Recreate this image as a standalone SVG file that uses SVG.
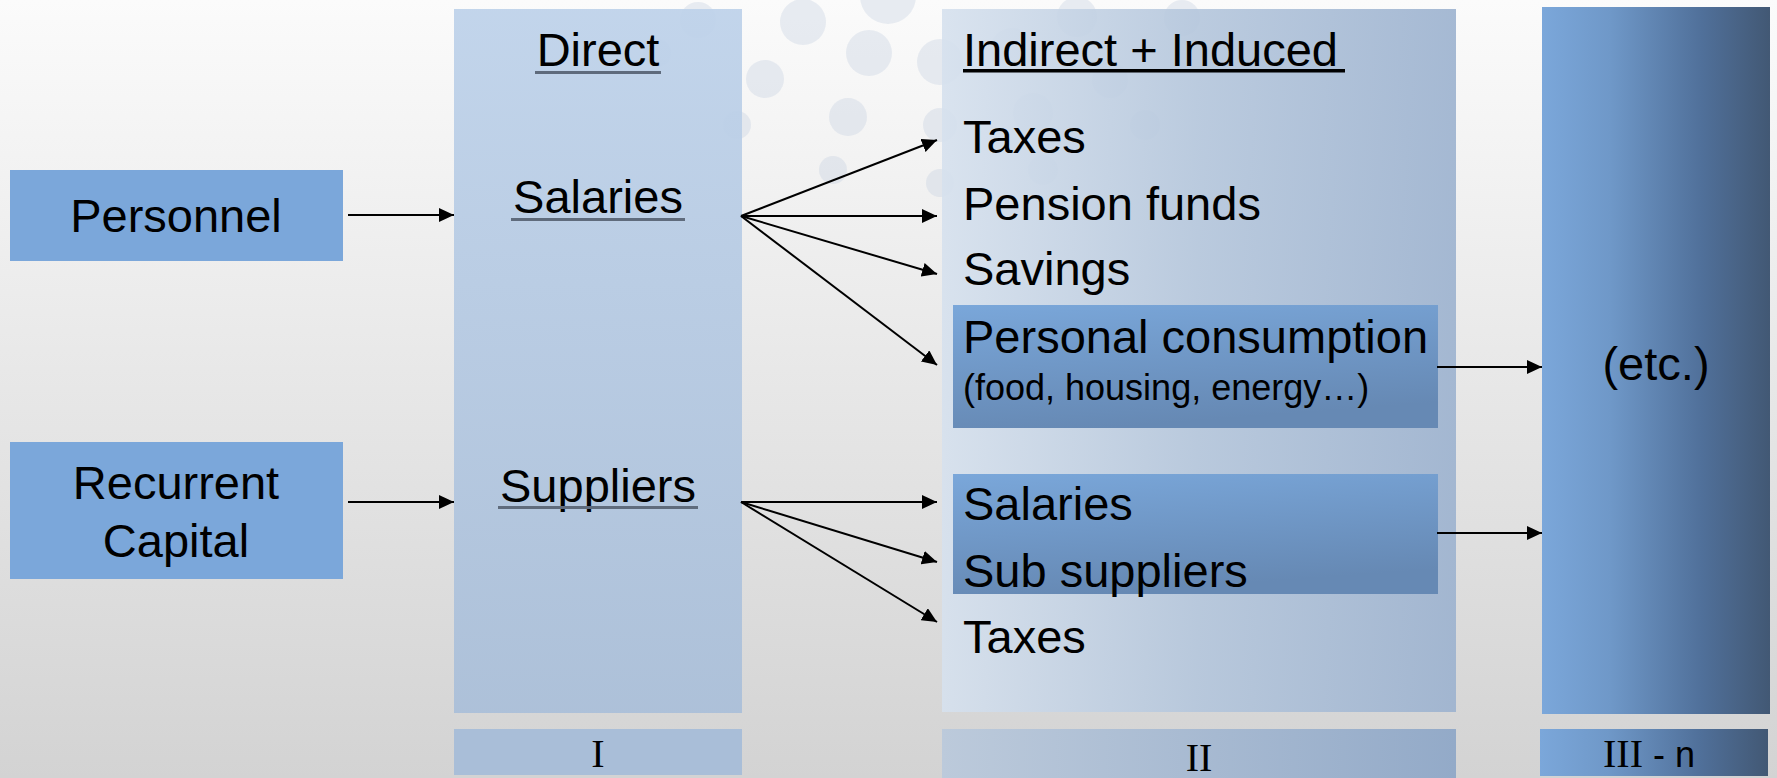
<svg xmlns="http://www.w3.org/2000/svg" width="1777" height="778" viewBox="0 0 1777 778">
  <defs>
    <linearGradient id="bg" x1="0" y1="0" x2="0" y2="1">
      <stop offset="0" stop-color="#fbfbfb"/>
      <stop offset="1" stop-color="#d3d3d3"/>
    </linearGradient>
    <linearGradient id="directFill" x1="0" y1="0" x2="0" y2="1">
      <stop offset="0" stop-color="#bed2ea"/>
      <stop offset="1" stop-color="#aabfd9"/>
    </linearGradient>
    <linearGradient id="indirectFill" x1="0" y1="0" x2="1" y2="0">
      <stop offset="0" stop-color="#d6e1ee"/>
      <stop offset="0.5" stop-color="#b4c6dc"/>
      <stop offset="1" stop-color="#9cb2cf"/>
    </linearGradient>
    <linearGradient id="phaseFill" x1="0" y1="0" x2="1" y2="0">
      <stop offset="0" stop-color="#bccadb"/>
      <stop offset="1" stop-color="#93aac8"/>
    </linearGradient>
    <linearGradient id="darkFill" x1="0" y1="0" x2="1" y2="0">
      <stop offset="0" stop-color="#7ba7da"/>
      <stop offset="0.3" stop-color="#6f98c8"/>
      <stop offset="0.7" stop-color="#50709a"/>
      <stop offset="1" stop-color="#425874"/>
    </linearGradient>
    <linearGradient id="innerFill" x1="0" y1="0" x2="0.3" y2="1">
      <stop offset="0" stop-color="#7aa7da"/>
      <stop offset="1" stop-color="#6689b4"/>
    </linearGradient>
    <marker id="arrow" markerUnits="userSpaceOnUse" markerWidth="16" markerHeight="14" refX="15" refY="7" orient="auto">
      <path d="M0,0 L15,7 L0,14 z" fill="#000"/>
    </marker>
    <style>
      .lbl { font-family: "Liberation Sans", Arial, sans-serif; font-size: 47px; fill: #000; }
      .small { font-family: "Liberation Sans", Arial, sans-serif; font-size: 36px; fill: #000; }
      .roman { font-family: "Liberation Serif", "Times New Roman", serif; font-size: 40px; fill: #000; }
      .mid { text-anchor: middle; }
      .conn { stroke: #000; stroke-width: 2; fill: none; marker-end: url(#arrow); }
      .bubble { fill: #c3cfdf; opacity: 0.35; }
      .ul { fill: #5f6b7c; }
    </style>
  </defs>

  <!-- backdrop -->
  <rect x="0" y="0" width="1777" height="778" fill="url(#bg)"/>

  <!-- faint decorative bubbles -->
  <g id="bubbles">
    <circle class="bubble" cx="698" cy="20" r="18"/>
    <circle class="bubble" cx="657" cy="53" r="14"/>
    <circle class="bubble" cx="803" cy="22" r="23"/>
    <circle class="bubble" cx="888" cy="-4" r="28"/>
    <circle class="bubble" cx="869" cy="53" r="23"/>
    <circle class="bubble" cx="765" cy="79" r="19"/>
    <circle class="bubble" cx="737" cy="125" r="14"/>
    <circle class="bubble" cx="848" cy="117" r="19"/>
    <circle class="bubble" cx="833" cy="170" r="14"/>
    <circle class="bubble" cx="940" cy="62" r="23"/>
    <circle class="bubble" cx="940" cy="125" r="17"/>
    <circle class="bubble" cx="940" cy="183" r="14"/>
    <circle class="bubble" cx="1012" cy="50" r="22"/>
    <circle class="bubble" cx="1077" cy="17" r="20"/>
    <circle class="bubble" cx="1182" cy="18" r="18"/>
    <circle class="bubble" cx="1110" cy="80" r="18"/>
    <circle class="bubble" cx="1033" cy="113" r="20"/>
    <circle class="bubble" cx="1145" cy="125" r="15"/>
    <circle class="bubble" cx="1043" cy="170" r="15"/>
  </g>

  <!-- source boxes -->
  <g id="personnel">
    <rect x="10" y="170" width="333" height="91" fill="#7ba7da"/>
    <text class="lbl mid" x="176" y="232">Personnel</text>
  </g>
  <g id="recurrent-capital">
    <rect x="10" y="442" width="333" height="137" fill="#7ba7da"/>
    <text class="lbl mid" x="176" y="499">Recurrent</text>
    <text class="lbl mid" x="176" y="557">Capital</text>
  </g>

  <!-- phase I: direct -->
  <g id="direct">
    <rect x="454" y="9" width="288" height="704" fill="url(#directFill)" opacity="0.93"/>
    <text class="lbl mid" x="598" y="66">Direct</text>
    <rect class="ul" x="535" y="71" width="126" height="3"/>
    <text class="lbl mid" x="598" y="213">Salaries</text>
    <rect class="ul" x="511" y="218" width="174" height="3"/>
    <text class="lbl mid" x="598" y="502">Suppliers</text>
    <rect class="ul" x="498" y="506" width="200" height="3"/>
  </g>
  <g id="phase-1">
    <rect x="454" y="729" width="288" height="46" fill="#a9bed8"/>
    <text class="roman mid" x="598" y="767">I</text>
  </g>

  <!-- phase II: indirect and induced -->
  <g id="indirect">
    <rect x="942" y="9" width="514" height="703" fill="url(#indirectFill)" opacity="0.9"/>
    <text class="lbl" x="963" y="66">Indirect + Induced</text>
    <rect x="963" y="69" width="382" height="3.5" fill="#000"/>
    <text class="lbl" x="963" y="153">Taxes</text>
    <text class="lbl" x="963" y="220">Pension funds</text>
    <text class="lbl" x="963" y="285">Savings</text>
  </g>
  <g id="personal-consumption">
    <rect x="953" y="305" width="485" height="123" fill="url(#innerFill)"/>
    <text class="lbl" x="963" y="353">Personal consumption</text>
    <text class="small" x="963" y="400">(food, housing, energy…)</text>
  </g>
  <g id="supplier-chain">
    <rect x="953" y="474" width="485" height="120" fill="url(#innerFill)"/>
    <text class="lbl" x="963" y="520">Salaries</text>
    <text class="lbl" x="963" y="587">Sub suppliers</text>
  </g>
  <g id="supplier-taxes">
    <text class="lbl" x="963" y="653">Taxes</text>
  </g>
  <g id="phase-2">
    <rect x="942" y="729" width="514" height="49" fill="url(#phaseFill)"/>
    <text class="roman mid" x="1199" y="771">II</text>
  </g>

  <!-- phase III - n -->
  <g id="etc">
    <rect x="1542" y="7" width="228" height="707" fill="url(#darkFill)"/>
    <text class="lbl mid" x="1656" y="380">(etc.)</text>
  </g>
  <g id="phase-3">
    <rect x="1540" y="729" width="228" height="47" fill="url(#darkFill)"/>
    <text x="1603" y="767"><tspan class="roman">III</tspan><tspan font-family="Liberation Sans, Arial, sans-serif" font-size="36px"> - n</tspan></text>
  </g>

  <!-- connectors -->
  <g id="connectors">
    <line class="conn" x1="348" y1="215" x2="454" y2="215"/>
    <line class="conn" x1="348" y1="502" x2="454" y2="502"/>
    <line class="conn" x1="741" y1="216" x2="937" y2="140"/>
    <line class="conn" x1="741" y1="216" x2="937" y2="216"/>
    <line class="conn" x1="741" y1="216" x2="937" y2="274"/>
    <line class="conn" x1="741" y1="216" x2="937" y2="365"/>
    <line class="conn" x1="741" y1="502" x2="937" y2="502"/>
    <line class="conn" x1="741" y1="502" x2="937" y2="562"/>
    <line class="conn" x1="741" y1="502" x2="937" y2="622"/>
    <line class="conn" x1="1437" y1="367" x2="1542" y2="367"/>
    <line class="conn" x1="1437" y1="533" x2="1542" y2="533"/>
  </g>
</svg>
